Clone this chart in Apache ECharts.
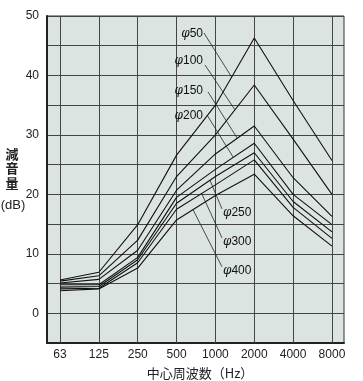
<!DOCTYPE html>
<html><head><meta charset="utf-8">
<script src="https://cdn.jsdelivr.net/npm/echarts@6/dist/echarts.min.js"></script>
<style>html,body{margin:0;padding:0;background:#fff}#c{width:363px;height:381px}</style>
</head><body><div id="c"></div>
<script>
// ---- data ----
const categories = ['63','125','250','500','1000','2000','4000','8000'];
const seriesNames = ['φ50','φ100','φ150','φ200','φ250','φ300','φ400'];
const phi50  = [5.6, 6.9, 14.9, 26.6, 35.0, 46.3, 35.8, 25.7];
const phi100 = [5.4, 6.3, 12.3, 23.0, 30.0, 38.4, 29.3, 20.0];
const phi150 = [5.1, 5.7, 10.6, 20.7, 26.8, 31.5, 22.8, 16.3];
const phi200 = [4.8, 4.8,  9.4, 19.5, 24.2, 28.6, 20.0, 14.9];
const phi250 = [4.4, 4.5,  9.0, 18.5, 23.0, 27.0, 18.8, 13.7];
const phi300 = [4.1, 4.2,  8.5, 17.5, 21.6, 25.8, 17.8, 12.6];
const phi400 = [3.8, 4.1,  7.6, 15.7, 19.8, 23.4, 16.4, 11.3];
const yTickLabels = [0, 10, 20, 30, 40, 50];
const allSeries = [phi50, phi100, phi150, phi200, phi250, phi300, phi400];

// ---- layout for annotation labels (data-space anchors) ----
const annotLayout = [
  {label:[3.68,46.97], align:'right', from:[3.706,47.14], tipX:4.418},
  {label:[3.68,42.44], align:'right', from:[3.731,41.76], tipX:4.503},
  {label:[3.68,37.40], align:'right', from:[3.809,37.23], tipX:4.563},
  {label:[3.68,33.19], align:'right', from:[3.783,33.36], tipX:4.460},
  {label:[4.195,16.89], align:'left', from:[4.169,17.56], tipX:3.860},
  {label:[4.195,12.02], align:'left', from:[4.169,12.69], tipX:3.646},
  {label:[4.195,7.14],  align:'left', from:[4.169,7.82],  tipX:3.423}
];

const chart = echarts.init(document.getElementById('c'), null, {renderer:'canvas'});
const NARROW = '"Liberation Sans Narrow", "Liberation Sans", sans-serif';
const CJK = '"Noto Sans CJK JP", sans-serif';

const series = allSeries.map((arr, si) => ({
  name: seriesNames[si],
  type: 'line',
  data: arr.map((v, i) => [i, v]),
  symbol: 'none',
  lineStyle: {color: '#111', width: 1.1},
  silent: true,
  z: 5
}));
series.push({
  type: 'line', data: [], silent: true,
  markLine: {
    silent: true, symbol: ['none','none'],
    label: {show: false},
    lineStyle: {color: '#444', width: 1, type: 'solid'},
    data: categories.map((c, i) => ({xAxis: i}))
  }
});

chart.setOption({
  animation: false,
  grid: {left: 47, top: 16, right: 19, bottom: 38, show: true,
         backgroundColor: '#dce4e2', borderColor: '#333', borderWidth: 1},
  xAxis: {
    type: 'value', min: -0.335, max: 7.31,
    axisLine: {show: true, onZero: false, lineStyle: {color: '#222', width: 2}},
    axisTick: {show: false},
    splitLine: {show: false},
    axisLabel: {
      customValues: categories.map((c, i) => i),
      formatter: v => categories[Math.round(v)] ?? '',
      color: '#222', fontFamily: NARROW, fontSize: 12, margin: 6
    }
  },
  yAxis: {
    type: 'value', min: -5, max: 50, interval: 5,
    axisLine: {show: true, onZero: false, lineStyle: {color: '#222', width: 2}},
    axisTick: {show: false},
    splitLine: {show: true, lineStyle: {color: '#444', width: 1}},
    axisLabel: {
      formatter: v => yTickLabels.includes(v) ? String(v) : '',
      color: '#222', fontFamily: NARROW, fontSize: 12, margin: 8
    }
  },
  series: series
});

function interp(arr, x) {
  const i = Math.floor(x), f = x - i;
  return arr[i] + (arr[i+1] - arr[i]) * f;
}

const g = [];
annotLayout.forEach((a, si) => {
  const lp = chart.convertToPixel({gridIndex: 0}, a.label);
  const fp = chart.convertToPixel({gridIndex: 0}, a.from);
  const tp = chart.convertToPixel({gridIndex: 0}, [a.tipX, interp(allSeries[si], a.tipX)]);
  g.push({
    type: 'line', silent: true, z: 10,
    shape: {x1: fp[0], y1: fp[1], x2: tp[0], y2: tp[1]},
    style: {stroke: '#222', lineWidth: 0.8}
  });
  g.push({
    type: 'text', silent: true, z: 11, x: lp[0], y: lp[1],
    style: {
      text: '{i|φ}' + seriesNames[si].slice(1),
      align: a.align, verticalAlign: 'middle',
      fill: '#111', fontFamily: NARROW, fontSize: 12,
      rich: {i: {fontStyle: 'italic', fontFamily: '"DejaVu Serif", serif', fontSize: 12, fill: '#111'}}
    }
  });
});
['減', '音', '量'].forEach((ch, k) => {
  g.push({
    type: 'text', silent: true, x: 12, y: 154 + k * 14.5,
    style: {text: ch, align: 'center', verticalAlign: 'middle',
            fontFamily: CJK, fontSize: 13, fontWeight: 'bold', fill: '#222'}
  });
});
g.push({
  type: 'text', silent: true, x: 13, y: 205,
  style: {text: '(dB)', align: 'center', verticalAlign: 'middle',
          fontFamily: '"Liberation Sans", sans-serif', fontSize: 13, fill: '#222'}
});
g.push({
  type: 'text', silent: true, x: 200, y: 373,
  style: {text: '中心周波数（Hz）', align: 'center', verticalAlign: 'middle',
          fontFamily: CJK, fontSize: 13, fill: '#222'}
});
chart.setOption({graphic: g});
</script>
</body></html>
